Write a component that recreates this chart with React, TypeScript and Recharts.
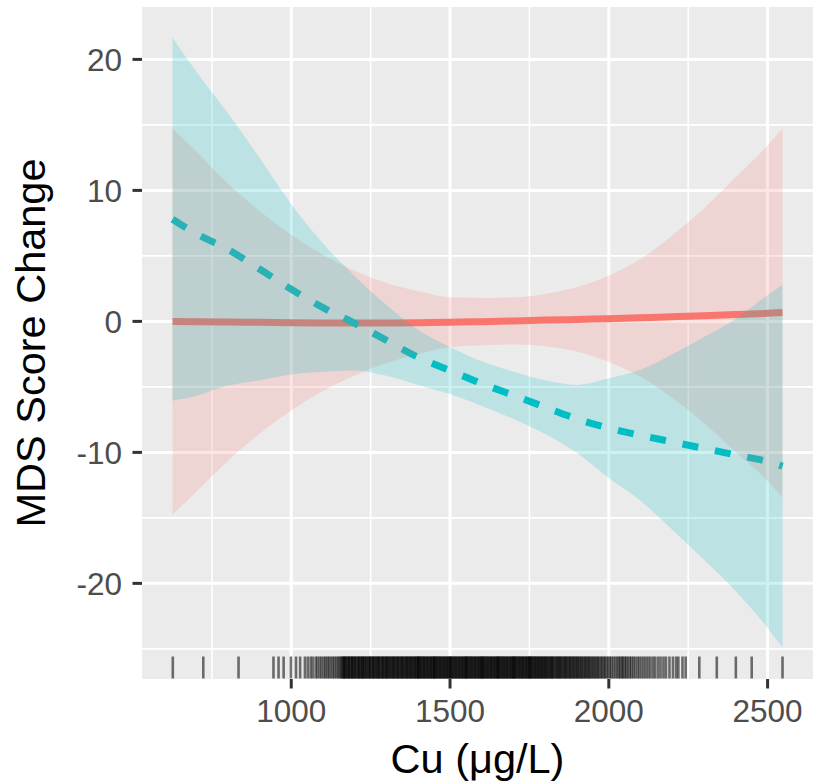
import { Area, CartesianGrid, ComposedChart, Line, Scatter, XAxis, YAxis } from "recharts"

// Cu values where the fitted curves were read
const cu = [626, 700, 800, 900, 1000, 1100, 1200, 1300, 1400, 1500, 1600, 1700, 1800, 1900, 2000, 2100, 2200, 2300, 2400, 2500, 2547]

// red group (solid)
const redFit = [0.0, -0.02, -0.05, -0.07, -0.1, -0.12, -0.13, -0.12, -0.1, -0.06, -0.02, 0.03, 0.1, 0.15, 0.2, 0.27, 0.35, 0.43, 0.52, 0.62, 0.67]
const redHi = [14.75, 12.98, 10.55, 8.43, 6.6, 5.08, 3.87, 2.93, 2.3, 1.84, 1.78, 1.83, 2.1, 2.6, 3.5, 4.77, 6.55, 8.63, 11.02, 13.42, 14.77]
const redLo = [-14.75, -13.02, -10.65, -8.57, -6.8, -5.32, -4.13, -3.17, -2.5, -1.96, -1.82, -1.77, -1.9, -2.3, -3.1, -4.23, -5.85, -7.77, -9.98, -12.18, -13.43]

// teal group (dashed)
const tealFit = [7.8, 6.7, 5.5, 4.0, 2.45, 1.05, -0.15, -1.45, -2.75, -3.75, -4.75, -5.65, -6.55, -7.45, -8.15, -8.7, -9.2, -9.7, -10.2, -10.7, -11.05]
const tealHi = [21.65, 19.1, 15.9, 12.5, 8.95, 5.95, 3.45, 1.25, -0.65, -1.95, -3.05, -3.85, -4.5, -4.85, -4.35, -3.7, -2.5, -1.2, 0.2, 2.0, 2.8]
const tealLo = [-6.05, -5.7, -4.9, -4.5, -4.05, -3.85, -3.75, -4.15, -4.85, -5.55, -6.45, -7.45, -8.6, -10.05, -11.95, -13.7, -15.9, -18.2, -20.6, -23.4, -24.9]

const xTicks = [1000, 1500, 2000, 2500]
const xMinor = [750, 1250, 1750, 2250]
const yTicks = [-20, -10, 0, 10, 20]
const yMinor = [-25, -15, -5, 5, 15]

// observed Cu values (rug)
const rugCu = [
  627, 723, 834, 944, 960, 976, 999, 1015, 1028, 1043, 1052, 1061, 1068, 1077, 1083, 1090, 1096, 1103, 1108, 1114,
  1119, 1125, 1131, 1136, 1142, 1147, 1152, 1156,
  1160, 1163, 1165, 1168, 1169, 1172, 1176, 1178, 1181, 1183, 1186, 1190, 1192, 1193, 1197, 1200, 1202, 1205, 1209, 1211,
  1214, 1216, 1219, 1223, 1225, 1226, 1230, 1233, 1235, 1238, 1242, 1244, 1247, 1249, 1252, 1256, 1258, 1260, 1263, 1267,
  1269, 1272, 1275, 1277, 1280, 1284, 1286, 1289, 1291, 1294, 1298, 1300, 1301, 1305, 1308, 1310, 1313, 1317, 1319, 1322,
  1324, 1327, 1331, 1333, 1336, 1338, 1341, 1345, 1347, 1350, 1352, 1355, 1359, 1361, 1364, 1366, 1369, 1372, 1375, 1377,
  1380, 1383, 1386, 1389, 1391, 1394, 1397, 1400, 1400, 1403, 1406, 1408, 1411, 1414, 1417, 1419, 1422, 1425, 1428, 1430,
  1433, 1436, 1439, 1441, 1444, 1447, 1450, 1450, 1453, 1456, 1458, 1461, 1464, 1467, 1469, 1472, 1475, 1478, 1480, 1483,
  1486, 1489, 1491, 1494, 1497, 1500, 1500, 1503, 1506, 1508, 1511, 1514, 1517, 1519, 1522, 1525, 1528, 1530, 1533, 1536,
  1539, 1541, 1544, 1547, 1550, 1550, 1553, 1556, 1558, 1561, 1564, 1567, 1569, 1572, 1575, 1578, 1580, 1583, 1586, 1589,
  1591, 1594, 1597, 1600, 1600, 1603, 1606, 1608, 1611, 1614, 1617, 1619, 1622, 1625, 1628, 1630, 1633, 1636, 1639, 1641,
  1644, 1647, 1650, 1650, 1653, 1656, 1658, 1661, 1664, 1667, 1669, 1672, 1675, 1678, 1680, 1683, 1686, 1689, 1691, 1694,
  1697, 1700, 1700, 1703, 1706, 1708, 1711, 1714, 1717, 1719, 1722, 1725, 1728, 1730, 1733, 1736, 1739, 1741, 1744, 1747,
  1750, 1750, 1753, 1756, 1758, 1761, 1764, 1767, 1769, 1772, 1775, 1778, 1780, 1783, 1786, 1789, 1791, 1794, 1797, 1800,
  1802, 1805, 1808, 1811, 1814, 1817, 1820, 1822, 1825, 1828, 1832, 1835, 1838, 1841, 1844, 1847, 1850, 1853, 1857, 1860,
  1863, 1866, 1869, 1873, 1876, 1879, 1882, 1886, 1889, 1892, 1896, 1899, 1902, 1906, 1909, 1913, 1916, 1920, 1924, 1927,
  1931, 1935, 1938, 1942, 1946, 1950, 1954, 1958, 1962, 1966, 1970, 1975, 1979, 1984, 1988, 1993, 1998, 2003, 2008, 2014,
  2020, 2026, 2031, 2036, 2041, 2045, 2050, 2055, 2060, 2066, 2071, 2077, 2083, 2090, 2096, 2103, 2110, 2117, 2124, 2131,
  2139, 2146, 2155, 2163, 2172, 2180, 2191, 2202, 2212, 2219, 2232, 2242, 2285, 2340, 2400, 2450, 2547,
]

const Y_MIN = -27.3
const Y_MAX = 24
const FONT = '"Liberation Sans", Arial, Helvetica, sans-serif'

const redLine = cu.map((x, i) => ({ x, fit: redFit[i] }))
const redBand = cu.map((x, i) => ({ x, band: [redLo[i], redHi[i]] }))
const tealLine = cu.map((x, i) => ({ x, fit: tealFit[i] }))
const tealBand = cu.map((x, i) => ({ x, band: [tealLo[i], tealHi[i]] }))
const rugData = rugCu.map((x) => ({ x, y: Y_MIN }))

const RugTick = (props: any) => {
  const { cx, cy } = props
  if (cx == null || cy == null) return null
  return <line x1={cx} x2={cx} y1={cy - 22.5} y2={cy - 0.5} stroke="#000" strokeOpacity={0.55} strokeWidth={2.6} />
}

const XTitle = (props: any) => {
  const vb = props.viewBox || { x: 142, y: 679, width: 671, height: 104 }
  return (
    <text x={vb.x + vb.width / 2} y={vb.y + 94} textAnchor="middle" fontSize={41.5} fill="#000" fontFamily={FONT}>
      Cu (μg/L)
    </text>
  )
}

const YTitle = (props: any) => {
  const vb = props.viewBox || { x: 0, y: 7, width: 142, height: 672 }
  return (
    <text
      transform={`translate(${vb.x + 45}, ${vb.y + vb.height / 2}) rotate(-90)`}
      textAnchor="middle"
      fontSize={41.5}
      fill="#000"
      fontFamily={FONT}
    >
      MDS Score Change
    </text>
  )
}

export default function App() {
  return (
    <div style={{ position: "absolute", left: 0, top: 0, width: 813, height: 783, background: "#fff" }}>
      <ComposedChart width={813} height={783} margin={{ top: 7, right: 0, bottom: 0, left: 0 }} style={{ fontFamily: FONT }}>
        <CartesianGrid fill="#EBEBEB" stroke="#FFFFFF" strokeWidth={1.6} horizontalValues={yMinor} verticalValues={xMinor} />
        <CartesianGrid fill="none" stroke="#FFFFFF" strokeWidth={3} horizontalValues={yTicks} verticalValues={xTicks} />
        <XAxis
          type="number"
          dataKey="x"
          domain={[530, 2643]}
          allowDataOverflow
          ticks={xTicks}
          interval={0}
          height={104}
          axisLine={false}
          tickSize={9.5}
          tickMargin={11}
          tickLine={{ stroke: "#333333", strokeWidth: 3 }}
          tick={{ fill: "#4D4D4D", fontSize: 31.5, fontFamily: FONT }}
          label={<XTitle />}
        />
        <YAxis
          type="number"
          domain={[Y_MIN, Y_MAX]}
          allowDataOverflow
          ticks={yTicks}
          interval={0}
          width={142}
          axisLine={false}
          tickSize={9.5}
          tickMargin={10.5}
          tickLine={{ stroke: "#333333", strokeWidth: 3 }}
          tick={{ fill: "#4D4D4D", fontSize: 31.5, fontFamily: FONT }}
          label={<YTitle />}
        />
        <Line
          data={redLine}
          dataKey="fit"
          type="monotone"
          stroke="#F8766D"
          strokeWidth={7}
          dot={false}
          activeDot={false}
          isAnimationActive={false}
          zIndex={50}
        />
        <Line
          data={tealLine}
          dataKey="fit"
          type="monotone"
          stroke="#00BFC4"
          strokeWidth={7}
          strokeDasharray="16 17"
          dot={false}
          activeDot={false}
          isAnimationActive={false}
          zIndex={60}
        />
        <Area
          data={redBand}
          dataKey="band"
          type="monotone"
          stroke="none"
          fill="#F8766D"
          fillOpacity={0.2}
          isAnimationActive={false}
          zIndex={450}
        />
        <Area
          data={tealBand}
          dataKey="band"
          type="monotone"
          stroke="none"
          fill="#00BFC4"
          fillOpacity={0.2}
          isAnimationActive={false}
          zIndex={460}
        />
        <Scatter data={rugData} dataKey="y" shape={<RugTick />} isAnimationActive={false} />
      </ComposedChart>
    </div>
  )
}
